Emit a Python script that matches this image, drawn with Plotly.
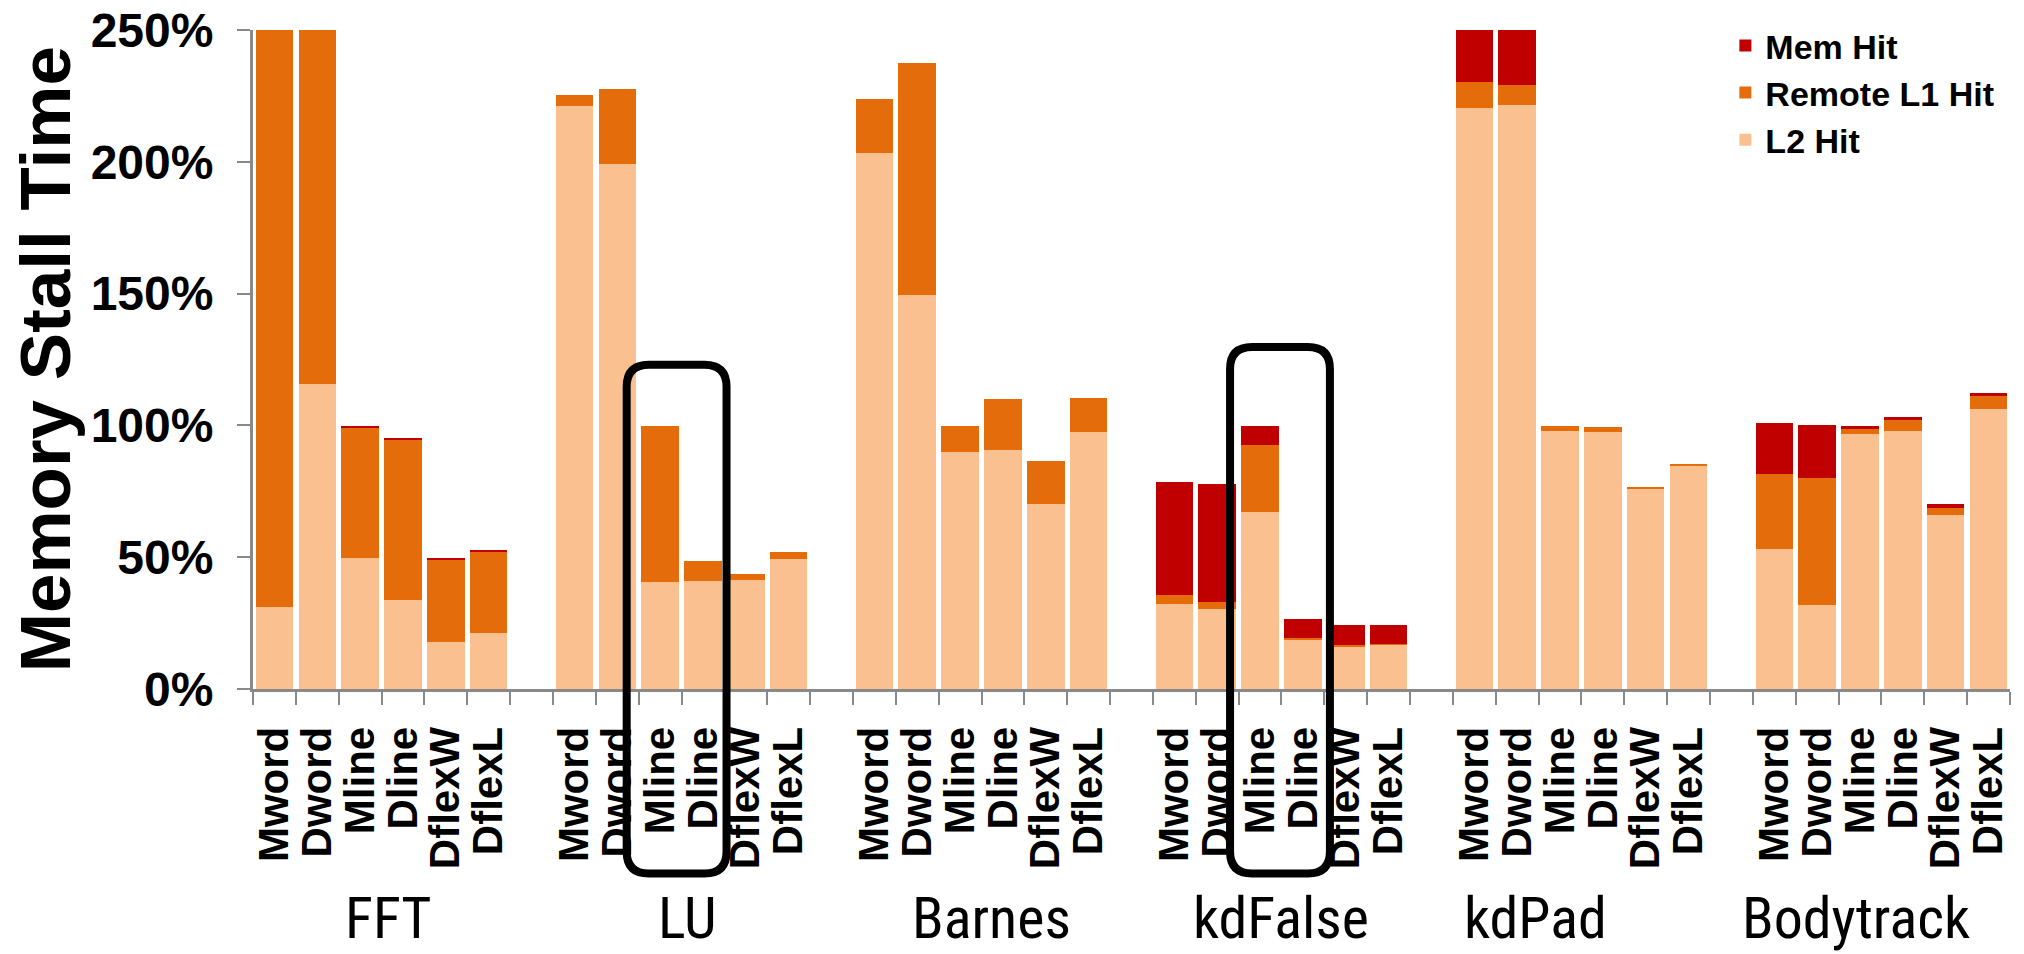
import plotly.graph_objects as go

# ---- data -------------------------------------------------------------
groups = ["FFT", "LU", "Barnes", "kdFalse", "kdPad", "Bodytrack"]
configs = ["Mword", "Dword", "Mline", "Dline", "DflexW", "DflexL"]

# values in % (6 configs per group, groups in order above)
l2_hit = [
    31.0, 115.6, 49.8, 33.6, 17.9, 21.1,      # FFT
    221.3, 199.2, 40.6, 41.0, 41.3, 49.5,     # LU
    203.4, 149.6, 90.1, 90.8, 70.2, 97.6,     # Barnes
    32.3, 30.3, 67.3, 18.9, 16.0, 16.7,       # kdFalse
    220.3, 221.5, 97.9, 97.6, 75.8, 84.8,     # kdPad
    53.2, 31.9, 96.7, 97.7, 65.9, 106.4,      # Bodytrack
]
remote_l1_hit = [
    230.0, 150.0, 49.5, 61.2, 31.2, 31.0,
    4.1, 28.3, 59.2, 7.5, 2.5, 2.3,
    20.4, 87.8, 9.7, 19.1, 16.2, 12.7,
    3.3, 2.7, 25.4, 0.3, 0.8, 0.3,
    10.1, 7.7, 1.9, 1.9, 0.9, 0.7,
    28.5, 48.2, 2.1, 4.2, 2.7, 4.6,
]
mem_hit = [
    0.0, 0.0, 0.5, 0.4, 0.5, 0.3,
    0.0, 0.0, 0.0, 0.0, 0.0, 0.0,
    0.0, 0.0, 0.0, 0.0, 0.0, 0.0,
    43.0, 44.7, 7.1, 7.3, 7.4, 7.4,
    30.0, 30.0, 0.0, 0.0, 0.0, 0.0,
    19.2, 20.2, 1.0, 1.4, 1.4, 1.4,
]
y_ticks = [0, 50, 100, 150, 200, 250]
y_tick_text = ["0%", "50%", "100%", "150%", "200%", "250%"]
highlighted = ["LU", "kdFalse"]  # Mline + Dline boxed in these groups

# ---- layout helpers (positions / styles) --------------------------------
group_label_shift = [0.17, 0.15, 0.24, 0.0, -1.08, -0.59]   # in slot units
box_geom = {"LU": (-0.78, 0.55, 0.492), "kdFalse": (-0.7, 0.63, 0.519)}

n_cfg = len(configs)
slot = n_cfg + 1  # one empty slot between groups
xpos, xlab = [], []
for gi, g in enumerate(groups):
    for ci, c in enumerate(configs):
        xpos.append(gi * slot + ci)
        xlab.append(c)
n_slots = len(groups) * slot - 1
x_range = [-0.5, n_slots - 0.5]

C_MEM = "#C00000"
C_REM = "#E46C0A"
C_L2 = "#FAC090"
AXC = "#898989"
FONT = "Liberation Sans, Arial, sans-serif"
NARROW = "Liberation Sans Narrow, Arial Narrow, Roboto Condensed, Liberation Sans, sans-serif"

fig = go.Figure()
for name, vals, col in [("L2 Hit", l2_hit, C_L2),
                        ("Remote L1 Hit", remote_l1_hit, C_REM),
                        ("Mem Hit", mem_hit, C_MEM)]:
    fig.add_trace(go.Bar(x=xpos, y=vals, name=name, marker_color=col,
                         marker_line_width=0))

# group labels
annotations = []
for gi, g in enumerate(groups):
    annotations.append(dict(
        x=gi * slot + (n_cfg - 1) / 2 + group_label_shift[gi], xref="x",
        y=-0.348, yref="paper",
        text=g, showarrow=False, xanchor="center", yanchor="middle",
        font=dict(family=NARROW, size=58, color="black")))
# y-axis title
annotations.append(dict(
    x=-0.118, xref="paper", y=0.5, yref="paper", text="Memory Stall Time",
    textangle=-90, showarrow=False, xanchor="center", yanchor="middle",
    font=dict(family=FONT, size=71, color="black", weight="bold")))

# rounded highlight boxes around Mline/Dline
shapes = []
span = x_range[1] - x_range[0]
for g in highlighted:
    gi = groups.index(g)
    dl, dr, y1 = box_geom[g]
    i1 = gi * slot + configs.index("Mline")
    i2 = gi * slot + configs.index("Dline")
    x0 = (i1 + dl - x_range[0]) / span
    x1 = (i2 + dr - x_range[0]) / span
    y0 = -0.28
    rx, ry = 22 / 1757, 22 / 659
    path = (f"M{x0 + rx},{y1} L{x1 - rx},{y1} Q{x1},{y1} {x1},{y1 - ry} "
            f"L{x1},{y0 + ry} Q{x1},{y0} {x1 - rx},{y0} "
            f"L{x0 + rx},{y0} Q{x0},{y0} {x0},{y0 + ry} "
            f"L{x0},{y1 - ry} Q{x0},{y1} {x0 + rx},{y1} Z")
    shapes.append(dict(type="path", path=path, xref="paper", yref="paper",
                       line=dict(color="black", width=8), layer="above"))

fig.update_layout(
    width=2024, height=954,
    margin=dict(l=253, r=14, t=30, b=265, autoexpand=False),
    paper_bgcolor="white", plot_bgcolor="white",
    barmode="stack", bargap=0.125,
    showlegend=True,
    legend=dict(x=0.838, y=1.02, xanchor="left", yanchor="top",
                traceorder="reversed", bgcolor="rgba(0,0,0,0)",
                font=dict(family=FONT, size=34, color="black", weight="bold")),
    xaxis=dict(range=x_range, tickmode="array", tickvals=xpos, ticktext=xlab,
               tickangle=-90, ticks="", showline=True, linecolor=AXC,
               linewidth=3, showgrid=False, zeroline=False, automargin=False,
               ticklabelstandoff=18, ticklabeloverflow="allow",
               tickfont=dict(family=FONT, size=42, color="black", weight="bold"),
               minor=dict(tick0=-0.5, dtick=1, ticks="outside", ticklen=13,
                          tickwidth=2, tickcolor=AXC, showgrid=False)),
    yaxis=dict(range=[0, 250], tickmode="array", tickvals=y_ticks,
               ticktext=y_tick_text,
               ticks="outside", ticklen=13, tickwidth=2, tickcolor=AXC,
               showline=True, linecolor=AXC, linewidth=3, showgrid=False,
               zeroline=False, ticklabelstandoff=14, automargin=False,
               ticklabeloverflow="allow",
               tickfont=dict(family=FONT, size=48, color="black", weight="bold")),
    annotations=annotations, shapes=shapes,
)

fig.write_html("out.html",
               config={"displayModeBar": False},
               post_script="document.body.style.margin='0';"
                           "document.body.style.overflow='hidden';")
